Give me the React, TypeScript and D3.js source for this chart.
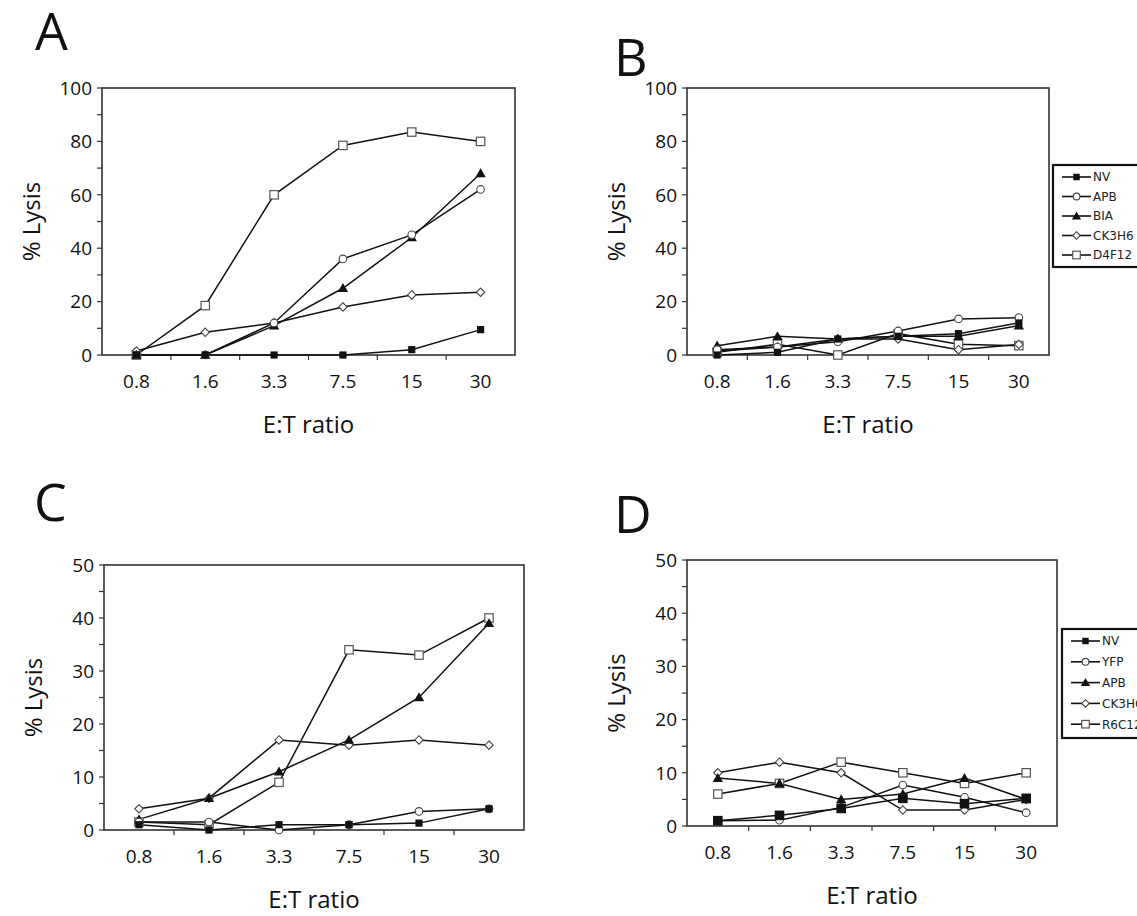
import React from "react";
import * as d3 from "d3";

// E:T ratios shared by all four panels
const ratios = ["0.8", "1.6", "3.3", "7.5", "15", "30"];

// Panel A – % lysis
const aNV = [0, 0, 0, 0, 2, 9.5];
const aAPB = [0, 0, 12, 36, 45, 62];
const aBIA = [0, 0, 11, 25, 44, 68];
const aCK3H6 = [1.5, 8.5, 12, 18, 22.5, 23.5];
const aD4F12 = [0, 18.5, 60, 78.5, 83.5, 80];

// Panel B – % lysis
const bNV = [0, 1, 6, 7, 8, 12];
const bAPB = [2, 3, 5, 9, 13.5, 14];
const bBIA = [3.5, 7, 6, 7, 7, 11];
const bCK3H6 = [1.5, 3, 6, 6, 2, 4];
const bD4F12 = [1, 4, 0, 8, 4, 3.5];

// Panel C – % lysis
const cNV = [1, 0, 1, 1, 1.3, 4];
const cAPB = [1.5, 1.5, 0, 1, 3.5, 4];
const cBIA = [2, 6, 11, 17, 25, 39];
const cCK3H6 = [4, 6, 17, 16, 17, 16];
const cD4F12 = [1.5, 1, 9, 34, 33, 40];

// Panel D – % lysis
const dNV = [1, 2, 3.3, 5.2, 4.2, 5.2];
const dYFP = [1, 1.1, 3.5, 7.7, 5.4, 2.5];
const dAPB = [9, 8, 5, 6, 9, 5];
const dCK3H6 = [10, 12, 10, 3, 3, 5];
const dR6C12 = [6, 8, 12, 10, 8, 10];

const legendB = ["NV", "APB", "BIA", "CK3H6", "D4F12"];
const legendD = ["NV", "YFP", "APB", "CK3H6", "R6C12"];

const yTicks100 = [0, 20, 40, 60, 80, 100];
const yTicks50 = [0, 10, 20, 30, 40, 50];

type MarkerKind = "fsquare" | "ocircle" | "ftriangle" | "odiamond" | "osquare";
const markerKinds: MarkerKind[] = ["fsquare", "ocircle", "ftriangle", "odiamond", "osquare"];

type Series = { name: string; values: number[]; marker: MarkerKind };

interface PanelCfg {
  letter: string;
  letterX: number;
  letterY: number;
  left: number;
  right: number;
  top: number;
  bottom: number;
  yMax: number;
  ticks: number[];
  series: Series[];
  bigSquare?: boolean;
  legend?: { x: number; y: number; h: number; rowH: number; names: string[] };
}

const mk = (names: string[], vals: number[][]): Series[] =>
  names.map((n, i) => ({ name: n, values: vals[i], marker: markerKinds[i] }));

const panels: PanelCfg[] = [
  {
    letter: "A", letterX: 35, letterY: 50,
    left: 102, right: 515, top: 88, bottom: 355,
    yMax: 100, ticks: yTicks100,
    series: mk(legendB, [aNV, aAPB, aBIA, aCK3H6, aD4F12]),
  },
  {
    letter: "B", letterX: 614, letterY: 76,
    left: 687, right: 1049, top: 88, bottom: 355,
    yMax: 100, ticks: yTicks100,
    series: mk(legendB, [bNV, bAPB, bBIA, bCK3H6, bD4F12]),
    legend: { x: 1053, y: 165, h: 102, rowH: 19.5, names: legendB },
  },
  {
    letter: "C", letterX: 34, letterY: 521,
    left: 104, right: 524, top: 565, bottom: 830,
    yMax: 50, ticks: yTicks50,
    series: mk(legendB, [cNV, cAPB, cBIA, cCK3H6, cD4F12]),
  },
  {
    letter: "D", letterX: 614, letterY: 533,
    left: 687, right: 1057, top: 560, bottom: 826,
    yMax: 50, ticks: yTicks50,
    series: mk(legendD, [dNV, dYFP, dAPB, dCK3H6, dR6C12]),
    bigSquare: true,
    legend: { x: 1062, y: 629, h: 109, rowH: 20.8, names: legendD },
  },
];

const INK = "#111";
const FONT = "'Open Sans', 'DejaVu Sans', sans-serif";

function Marker({ kind, x, y, scale = 1, big = false }: { kind: MarkerKind; x: number; y: number; scale?: number; big?: boolean }) {
  const s = scale;
  switch (kind) {
    case "fsquare": {
      const h = (big ? 4.8 : 3.6) * s;
      return <rect x={x - h} y={y - h} width={2 * h} height={2 * h} fill={INK} />;
    }
    case "osquare": {
      const h = 4.2 * s;
      return <rect x={x - h} y={y - h} width={2 * h} height={2 * h} fill="#fff" stroke="#555" strokeWidth={1.2} />;
    }
    case "ocircle":
      return <circle cx={x} cy={y} r={3.8 * s} fill="#fff" stroke="#444" strokeWidth={1.1} />;
    case "ftriangle": {
      const p = d3.symbol().type(d3.symbolTriangle).size(46 * s * s)();
      return <path d={p || ""} transform={`translate(${x},${y + 0.8})`} fill={INK} />;
    }
    case "odiamond": {
      const r = 4.2 * s;
      return (
        <path
          d={`M${x},${y - r}L${x + r},${y}L${x},${y + r}L${x - r},${y}Z`}
          fill="#fff"
          stroke="#444"
          strokeWidth={1.1}
        />
      );
    }
  }
}

function Panel({ cfg }: { cfg: PanelCfg }) {
  const x = d3.scaleBand<string>().domain(ratios).range([cfg.left, cfg.right]);
  const y = d3.scaleLinear().domain([0, cfg.yMax]).range([cfg.bottom, cfg.top]);
  const line = d3
    .line<number>()
    .x((_, i) => (x(ratios[i]) as number) + x.bandwidth() / 2)
    .y((v) => y(v));

  const step = cfg.ticks[1] - cfg.ticks[0];
  const minor = d3.range(0, cfg.yMax + 0.001, step / 2);
  const bounds = ratios.slice(1).map((r) => x(r) as number);

  const midY = (cfg.top + cfg.bottom) / 2;
  const midX = (cfg.left + cfg.right) / 2;

  return (
    <g>
      <text x={cfg.letterX} y={cfg.letterY} fontSize={52} fontFamily={FONT} fill={INK}>
        {cfg.letter}
      </text>

      {/* plot frame */}
      <rect
        x={cfg.left}
        y={cfg.top}
        width={cfg.right - cfg.left}
        height={cfg.bottom - cfg.top}
        fill="none"
        stroke="#333"
        strokeWidth={1.6}
      />

      {/* y axis ticks */}
      {minor.map((t) => (
        <line key={"m" + t} x1={cfg.left - 5} x2={cfg.left} y1={y(t)} y2={y(t)} stroke="#333" strokeWidth={1.2} />
      ))}
      {cfg.ticks.map((t) => (
        <text
          key={"t" + t}
          x={cfg.left - 10}
          y={y(t)}
          dy="0.36em"
          textAnchor="end"
          fontSize={19}
          fontFamily={FONT}
          fill={INK}
        >
          {t}
        </text>
      ))}

      {/* x axis ticks */}
      {bounds.map((b, i) => (
        <line key={"b" + i} x1={b} x2={b} y1={cfg.bottom} y2={cfg.bottom + 5} stroke="#333" strokeWidth={1.2} />
      ))}
      {ratios.map((r) => (
        <text
          key={"x" + r}
          x={(x(r) as number) + x.bandwidth() / 2}
          y={cfg.bottom + 33}
          textAnchor="middle"
          fontSize={19}
          fontFamily={FONT}
          fill={INK}
        >
          {r}
        </text>
      ))}

      <text x={midX} y={cfg.bottom + 78} textAnchor="middle" fontSize={24} fontFamily={FONT} fill={INK}>
        E:T ratio
      </text>
      <text
        transform={`translate(${cfg.left - 62},${midY}) rotate(-90)`}
        textAnchor="middle"
        fontSize={24}
        fontFamily={FONT}
        fill={INK}
      >
        % Lysis
      </text>

      {/* series lines */}
      {cfg.series.map((s) => (
        <path key={"l" + s.name} d={line(s.values) || ""} fill="none" stroke={INK} strokeWidth={1.5} />
      ))}
      {/* series markers */}
      {cfg.series
        .slice()
        .reverse()
        .map((s) =>
          s.values.map((v, i) => (
            <Marker
              key={s.name + i}
              kind={s.marker}
              x={(x(ratios[i]) as number) + x.bandwidth() / 2}
              y={y(v)}
              big={cfg.bigSquare}
            />
          ))
        )}

      {cfg.legend && (
        <g>
          <rect
            x={cfg.legend.x}
            y={cfg.legend.y}
            width={120}
            height={cfg.legend.h}
            fill="#fff"
            stroke={INK}
            strokeWidth={2.2}
          />
          {cfg.legend.names.map((n, i) => {
            const ly = cfg.legend!.y + 12 + i * cfg.legend!.rowH;
            const lx0 = cfg.legend!.x + 9;
            return (
              <g key={"lg" + n}>
                <line x1={lx0} x2={lx0 + 29} y1={ly} y2={ly} stroke={INK} strokeWidth={1.6} />
                <Marker kind={markerKinds[i]} x={lx0 + 14.5} y={ly} scale={0.9} />
                <text
                  x={lx0 + 31}
                  y={ly}
                  dy="0.36em"
                  fontSize={12}
                  fontFamily="'DejaVu Sans', Verdana, sans-serif"
                  fill="#222"
                >
                  {n}
                </text>
              </g>
            );
          })}
        </g>
      )}
    </g>
  );
}

export default function App() {
  return (
    <svg
      width={1137}
      height={916}
      viewBox="0 0 1137 916"
      style={{ position: "absolute", left: 0, top: 0, background: "#fff" }}
    >
      <rect width={1137} height={916} fill="#fff" />
      {panels.map((p) => (
        <Panel key={p.letter} cfg={p} />
      ))}
    </svg>
  );
}
